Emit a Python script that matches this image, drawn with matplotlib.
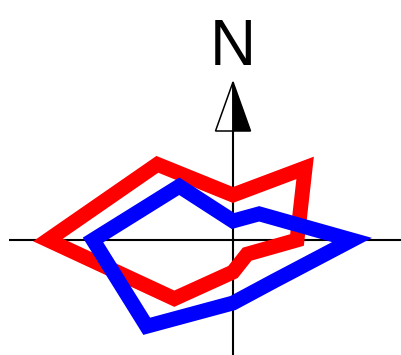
import numpy as np
import matplotlib.pyplot as plt
from matplotlib.patches import Polygon

# direcciones de la rosa (grados, desde el este en sentido antihorario)
directions = [0, 45, 90, 135, 180, 225, 270, 315]
red_values = [64, 102, 45, 107, 185, 83, 32, 20]
blue_values = [119, 37, 19, 76, 140, 122, 63, 58]
north_label = "N"


def rose_points(values):
    ang = np.radians(directions)
    r = np.array(values, dtype=float)
    return np.column_stack([r * np.cos(ang), r * np.sin(ang)])


fig = plt.figure(figsize=(4.01, 3.55), dpi=100)
ax = fig.add_axes([0, 0, 1, 1])
ax.set_xlim(-233, 168)
ax.set_ylim(-115, 240)
ax.axis('off')

# ejes cruzados
ax.plot([-224, 168], [0, 0], color='black', lw=1.5, zorder=1, solid_capstyle='butt')
ax.plot([0, 0], [-115, 109], color='black', lw=1.5, zorder=1, solid_capstyle='butt')

# poligonos
for values, color, z in [(red_values, '#ff0000', 2), (blue_values, '#0000ff', 3)]:
    poly = Polygon(rose_points(values), closed=True, fill=False, edgecolor=color,
                   linewidth=10.7, joinstyle='miter', zorder=z)
    ax.add_patch(poly)

# flecha del norte
tip, base, half = 158, 109, 17.5
ax.add_patch(Polygon([(0, tip), (-half, base), (0, base)], closed=True,
                     facecolor='white', edgecolor='black', lw=1.1, zorder=4))
ax.add_patch(Polygon([(0, tip), (half, base), (0, base)], closed=True,
                     facecolor='black', edgecolor='black', lw=1.1, zorder=4))
ax.text(0, 175, north_label, ha='center', va='baseline', fontsize=46,
        family='Liberation Sans', zorder=5)

fig.savefig('out.png', dpi=100)
